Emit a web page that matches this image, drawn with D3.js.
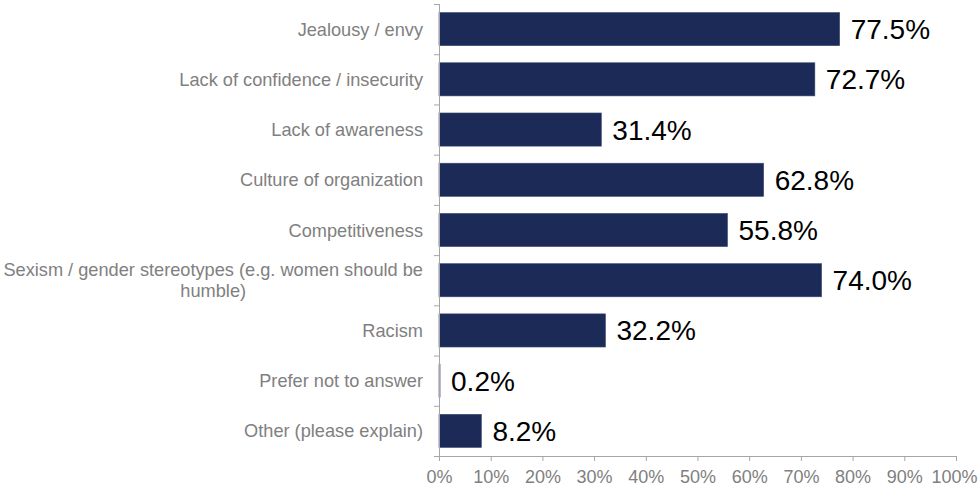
<!DOCTYPE html>
<html>
<head>
<meta charset="utf-8">
<script src="https://cdn.jsdelivr.net/npm/d3@7/dist/d3.min.js"></script>
<style>
  html, body { margin: 0; padding: 0; background: #fff; }
  svg { display: block; font-family: "Liberation Sans", Arial, sans-serif; }
</style>
</head>
<body>
<svg id="chart" width="979" height="487"></svg>
<script>
// Reasons given, in display order (top to bottom)
const categories = [
  "Jealousy / envy",
  "Lack of confidence / insecurity",
  "Lack of awareness",
  "Culture of organization",
  "Competitiveness",
  "Sexism / gender stereotypes (e.g. women should be humble)",
  "Racism",
  "Prefer not to answer",
  "Other (please explain)"
];
// Share of respondents, percent
const values = [77.5, 72.7, 31.4, 62.8, 55.8, 74.0, 32.2, 0.2, 8.2];
// Wrapped category label lines
const labelLines = {
  "Sexism / gender stereotypes (e.g. women should be humble)":
    ["Sexism / gender stereotypes (e.g. women should be", "humble)"]
};
const xTicks = [0, 10, 20, 30, 40, 50, 60, 70, 80, 90, 100];

const svg = d3.select("#chart");
const margin = { left: 439, right: 23, top: 4, bottom: 31 };
const width = 979, height = 487;

const x = d3.scaleLinear().domain([0, 100]).range([margin.left, width - margin.right]);
const y = d3.scaleBand().domain(categories)
  .range([margin.top, height - margin.bottom])
  .paddingInner(0.34).paddingOuter(0.17);
const yb = d3.scaleBand().domain(categories).range([margin.top, height - margin.bottom]);

const axisColor = "#a6a6a6";
const textGray = "#808080";

// Bars
svg.append("g").selectAll("rect")
  .data(categories)
  .join("rect")
  .attr("x", x(0))
  .attr("y", d => y(d))
  .attr("width", (d, i) => Math.max(0, x(values[i]) - x(0)))
  .attr("height", y.bandwidth())
  .attr("fill", "#1b2a56")
  .attr("stroke", "#3c4b74")
  .attr("stroke-width", 0.6);

// Value labels
svg.append("g").selectAll("text")
  .data(categories)
  .join("text")
  .attr("x", (d, i) => x(values[i]) + 11)
  .attr("y", d => y(d) + y.bandwidth() / 2 + 10)
  .attr("font-size", 28)
  .attr("fill", "#000")
  .text((d, i) => values[i].toFixed(1) + "%");

// X axis
const xAxis = svg.append("g")
  .attr("transform", `translate(0,${height - margin.bottom})`)
  .call(d3.axisBottom(x).tickValues(xTicks).tickFormat(d => d + "%").tickSize(5).tickSizeOuter(0));
xAxis.select(".domain").attr("stroke", axisColor).attr("d", `M${x(0) - 5},0.5H${x(100)}`);
xAxis.selectAll(".tick line").attr("stroke", axisColor);
xAxis.selectAll(".tick text").attr("fill", textGray).attr("font-size", 18)
  .attr("y", 27).attr("dy", 0)
  .attr("dx", d => d === 100 ? -2 : 0)
  .attr("font-family", "Liberation Sans, Arial, sans-serif");

// Y axis line with ticks at category boundaries
const yAxisG = svg.append("g");
yAxisG.append("line")
  .attr("x1", x(0) + 0.5).attr("x2", x(0) + 0.5)
  .attr("y1", margin.top).attr("y2", height - margin.bottom)
  .attr("stroke", axisColor);
const bounds = categories.map(d => yb(d));
yAxisG.selectAll("line.tk")
  .data(bounds)
  .join("line")
  .attr("class", "tk")
  .attr("x1", x(0) - 5).attr("x2", x(0))
  .attr("y1", d => d + 0.5).attr("y2", d => d + 0.5)
  .attr("stroke", axisColor);

// Category labels, right-aligned; wrapped lines centred on each other
const labelRight = 423;
const fs = 18.2;
const labels = svg.append("g");
categories.forEach(c => {
  const lines = labelLines[c] || [c];
  const cy = y(c) + y.bandwidth() / 2;
  const lh = 21;
  const g = labels.append("g");
  if (lines.length === 1) {
    g.append("text")
      .attr("x", labelRight).attr("y", cy + 6.5)
      .attr("text-anchor", "end")
      .attr("font-size", fs).attr("fill", textGray)
      .text(lines[0]);
  } else {
    const t0 = g.append("text")
      .attr("x", labelRight).attr("y", cy - lh / 2 + 6.5)
      .attr("text-anchor", "end")
      .attr("font-size", fs).attr("fill", textGray)
      .text(lines[0]);
    const w = t0.node().getComputedTextLength();
    g.append("text")
      .attr("x", labelRight - w / 2).attr("y", cy + lh / 2 + 6.5)
      .attr("text-anchor", "middle")
      .attr("font-size", fs).attr("fill", textGray)
      .text(lines[1]);
  }
});
</script>
</body>
</html>
